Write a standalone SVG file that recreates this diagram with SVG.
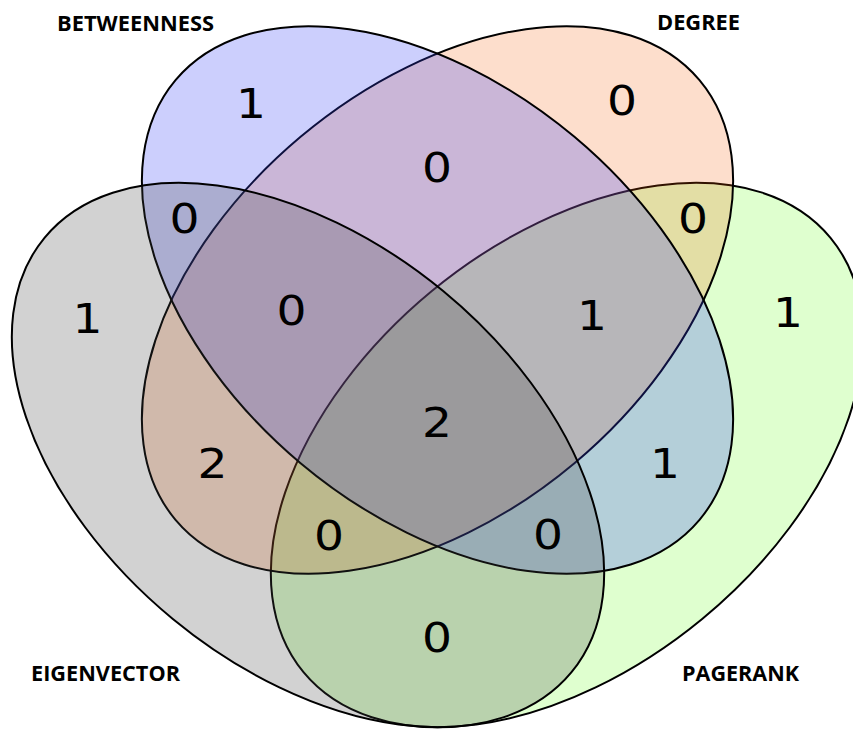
<svg xmlns="http://www.w3.org/2000/svg" width="853" height="729" viewBox="0 0 853 729">
  <style>
    .set { stroke: #000; stroke-width: 2; }
    .lbl { font-family: "Open Sans", "Liberation Sans", sans-serif; font-weight: 700; font-size: 21px; fill: #000; }
    .cnt { font-family: "DejaVu Sans", sans-serif; font-size: 41px; fill: #000; text-anchor: middle; }
  </style>
  <rect width="853" height="729" fill="#fff"/>

  <!-- four translucent set ellipses, bottom to top -->
  <g id="pagerank">
    <ellipse class="set" cx="567" cy="455" rx="341.5" ry="212.5" transform="rotate(-39.5 567 455)" fill="rgb(128,255,64)" fill-opacity="0.25"/>
  </g>
  <g id="degree">
    <ellipse class="set" cx="437.5" cy="300" rx="342" ry="213" transform="rotate(-40 437.5 300)" fill="rgb(245,90,0)" fill-opacity="0.2"/>
  </g>
  <g id="betweenness">
    <ellipse class="set" cx="437.5" cy="300" rx="342" ry="213" transform="rotate(40 437.5 300)" fill="rgb(52,64,248)" fill-opacity="0.25"/>
  </g>
  <g id="eigenvector">
    <ellipse class="set" cx="308" cy="455" rx="341.5" ry="212.5" transform="rotate(39.5 308 455)" fill="rgb(67,67,67)" fill-opacity="0.24"/>
  </g>

  <!-- set names -->
  <g id="set-labels">
    <text class="lbl" x="57" y="31" textLength="157" lengthAdjust="spacingAndGlyphs">BETWEENNESS</text>
    <text class="lbl" x="657" y="30" textLength="83" lengthAdjust="spacingAndGlyphs">DEGREE</text>
    <text class="lbl" x="31" y="681" textLength="149" lengthAdjust="spacingAndGlyphs">EIGENVECTOR</text>
    <text class="lbl" x="682" y="681" textLength="117" lengthAdjust="spacingAndGlyphs">PAGERANK</text>
  </g>

  <!-- region counts -->
  <g id="counts">
    <text class="cnt" transform="translate(251 118) scale(1.15 1)">1</text>
    <text class="cnt" transform="translate(622 115) scale(1.15 1)">0</text>
    <text class="cnt" transform="translate(437 182) scale(1.15 1)">0</text>
    <text class="cnt" transform="translate(184.5 233) scale(1.15 1)">0</text>
    <text class="cnt" transform="translate(693 233) scale(1.15 1)">0</text>
    <text class="cnt" transform="translate(87.5 333) scale(1.15 1)">1</text>
    <text class="cnt" transform="translate(291.5 325) scale(1.15 1)">0</text>
    <text class="cnt" transform="translate(592 330) scale(1.15 1)">1</text>
    <text class="cnt" transform="translate(788 327) scale(1.15 1)">1</text>
    <text class="cnt" transform="translate(437 437) scale(1.15 1)">2</text>
    <text class="cnt" transform="translate(212.5 478) scale(1.15 1)">2</text>
    <text class="cnt" transform="translate(665 478) scale(1.15 1)">1</text>
    <text class="cnt" transform="translate(329 550) scale(1.15 1)">0</text>
    <text class="cnt" transform="translate(548 549) scale(1.15 1)">0</text>
    <text class="cnt" transform="translate(437 652) scale(1.15 1)">0</text>
  </g>
</svg>
